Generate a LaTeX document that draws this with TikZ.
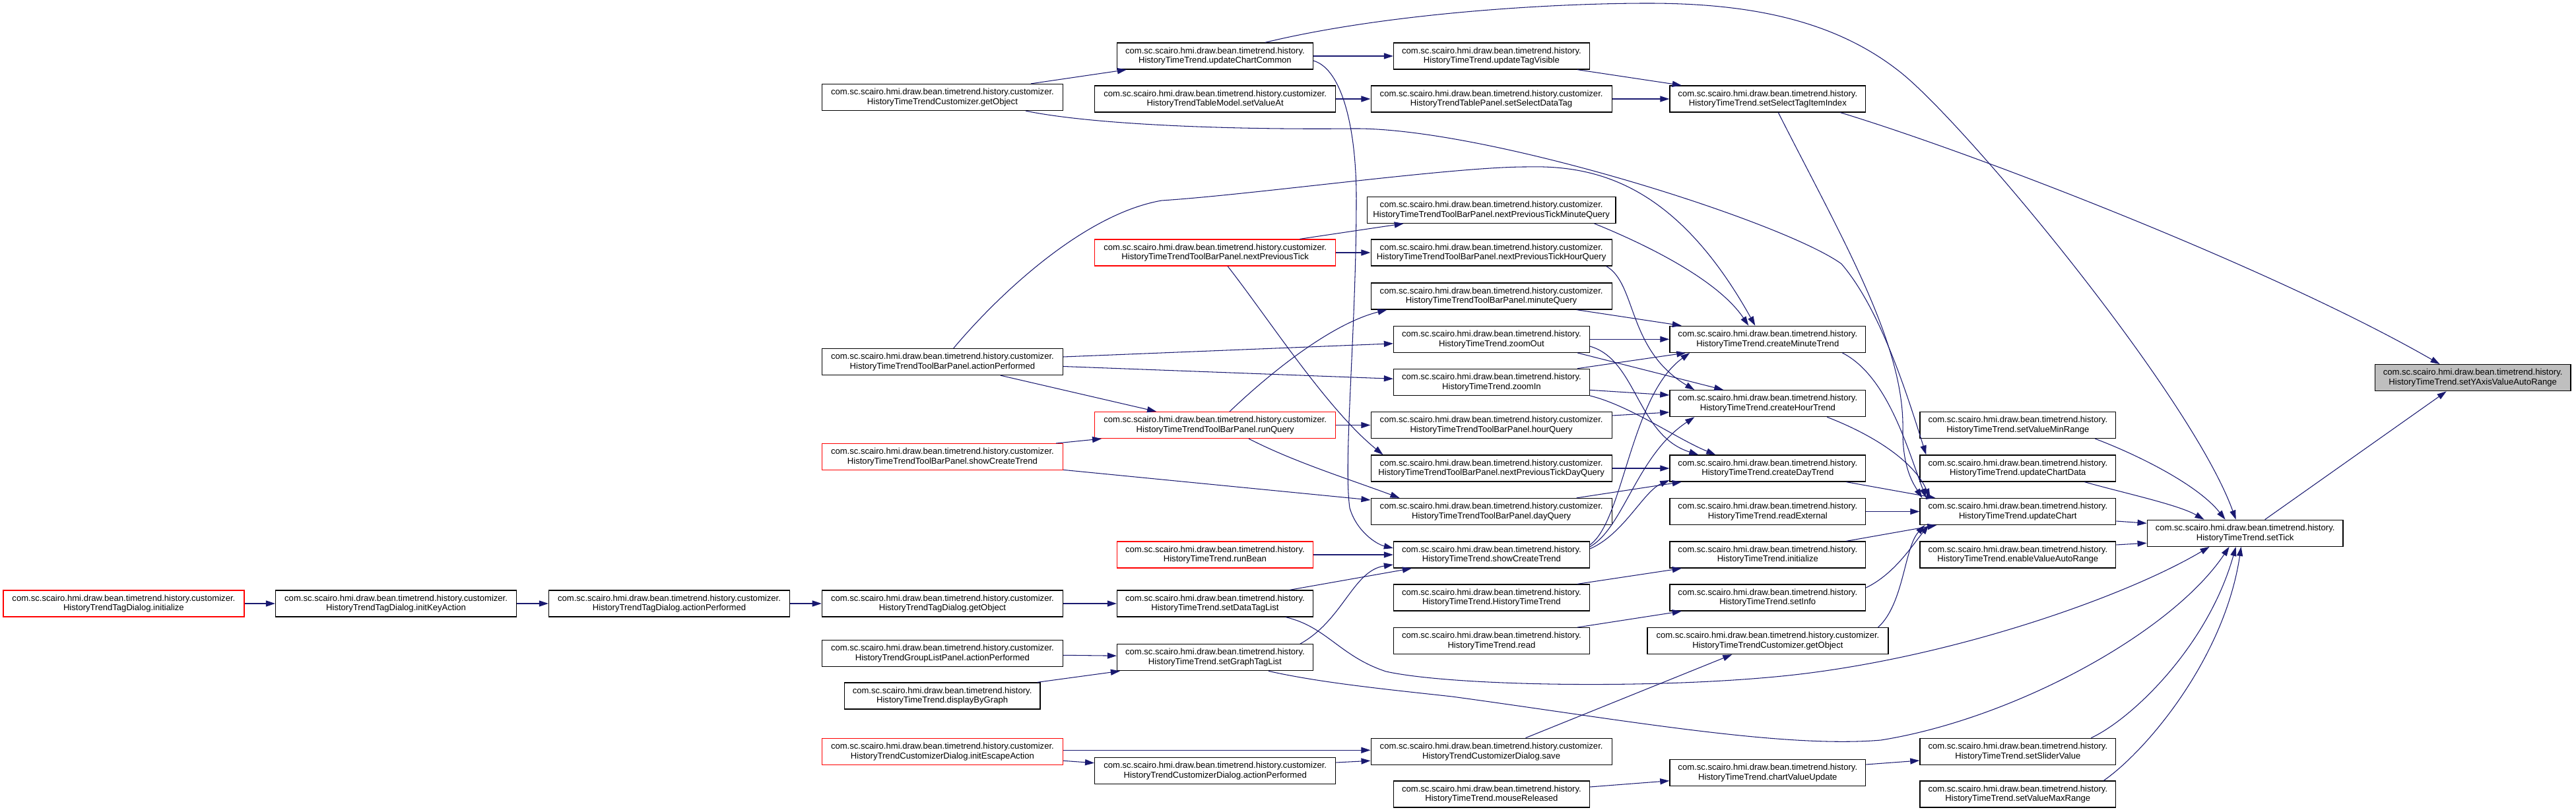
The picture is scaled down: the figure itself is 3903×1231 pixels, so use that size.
\documentclass[tikz,border=0pt]{standalone}
\usepackage{fontspec}
\setmainfont{Liberation Sans}
\usetikzlibrary{arrows.meta}
\definecolor{edgeblue}{RGB}{25,25,112}
\definecolor{rootgray}{RGB}{191,191,191}
\newcommand\HPre{com.sc.scairo.hmi.draw.bean.timetrend.history.}
\newcommand\CPre{com.sc.scairo.hmi.draw.bean.timetrend.history.customizer.}
\tikzset{
  fn/.style={draw=black, line width=0.35pt, fill=white, inner sep=0pt, minimum height=0.4cm,
    align=center, font=\fontsize{3.72}{4.18}\selectfont},
  hw/.style={fn, minimum width=2.966cm},
  cw/.style={fn, minimum width=3.648cm},
  redb/.style={draw=red},
  rootb/.style={fill=rootgray},
  edge/.style={draw=edgeblue, line width=0.3pt, -{Triangle[length=4pt,width=2.6pt]}}
}
\begin{document}
\begin{tikzpicture}[x=0.01cm, y=-0.01cm]
\useasboundingbox (0,0) rectangle (3903,1231);
% column 9..6
\node[cw,redb] (n_init) at (187.4,915) {\CPre\\HistoryTrendTagDialog.initialize};
\node[cw] (n_ika) at (600.1,915) {\CPre\\HistoryTrendTagDialog.initKeyAction};
\node[cw] (n_tdap) at (1014,915) {\CPre\\HistoryTrendTagDialog.actionPerformed};
\node[cw] (n_cgo) at (1427.9,147.5) {\CPre\\HistoryTimeTrendCustomizer.getObject};
\node[cw] (n_tbap) at (1427.9,548.5) {\CPre\\HistoryTimeTrendToolBarPanel.actionPerformed};
\node[cw,redb] (n_tbsct) at (1427.9,692.7) {\CPre\\HistoryTimeTrendToolBarPanel.showCreateTrend};
\node[cw] (n_tdgo) at (1427.9,915) {\CPre\\HistoryTrendTagDialog.getObject};
\node[cw] (n_glap) at (1427.9,990.3) {\CPre\\HistoryTrendGroupListPanel.actionPerformed};
\node[hw] (n_dbg) at (1427.6,1055) {\HPre\\HistoryTimeTrend.displayByGraph};
\node[cw,redb] (n_iea) at (1427.9,1139.3) {\CPre\\HistoryTrendCustomizerDialog.initEscapeAction};
% column 5
\node[hw] (n_ucc) at (1840.9,85) {\HPre\\HistoryTimeTrend.updateChartCommon};
\node[cw] (n_sva) at (1841.2,150) {\CPre\\HistoryTrendTableModel.setValueAt};
\node[cw,redb] (n_npt) at (1841.2,383) {\CPre\\HistoryTimeTrendToolBarPanel.nextPreviousTick};
\node[cw,redb] (n_rq) at (1841.2,644.5) {\CPre\\HistoryTimeTrendToolBarPanel.runQuery};
\node[hw,redb] (n_rb) at (1840.9,841) {\HPre\\HistoryTimeTrend.runBean};
\node[hw] (n_sdtl) at (1840.9,915) {\HPre\\HistoryTimeTrend.setDataTagList};
\node[hw] (n_sgtl) at (1840.9,996.7) {\HPre\\HistoryTimeTrend.setGraphTagList};
\node[cw] (n_cdap) at (1841.2,1168.7) {\CPre\\HistoryTrendCustomizerDialog.actionPerformed};
% column 4
\node[hw] (n_utv) at (2259.9,85) {\HPre\\HistoryTimeTrend.updateTagVisible};
\node[cw] (n_ssdt) at (2259.6,150) {\CPre\\HistoryTrendTablePanel.setSelectDataTag};
\node[fn, minimum width=3.763cm] (n_nptmq) at (2259.6,318.3) {\CPre\\HistoryTimeTrendToolBarPanel.nextPreviousTickMinuteQuery};
\node[cw] (n_npthq) at (2259.6,383) {\CPre\\HistoryTimeTrendToolBarPanel.nextPreviousTickHourQuery};
\node[cw] (n_mq) at (2259.6,449) {\CPre\\HistoryTimeTrendToolBarPanel.minuteQuery};
\node[hw] (n_zo) at (2259.9,514.3) {\HPre\\HistoryTimeTrend.zoomOut};
\node[hw] (n_zi) at (2259.9,579.3) {\HPre\\HistoryTimeTrend.zoomIn};
\node[cw] (n_hq) at (2259.6,644.5) {\CPre\\HistoryTimeTrendToolBarPanel.hourQuery};
\node[cw] (n_nptdq) at (2259.6,710) {\CPre\\HistoryTimeTrendToolBarPanel.nextPreviousTickDayQuery};
\node[cw] (n_dq) at (2259.6,775.5) {\CPre\\HistoryTimeTrendToolBarPanel.dayQuery};
\node[hw] (n_sct) at (2259.9,841) {\HPre\\HistoryTimeTrend.showCreateTrend};
\node[hw] (n_htt) at (2259.9,906) {\HPre\\HistoryTimeTrend.HistoryTimeTrend};
\node[hw] (n_read) at (2259.9,971.7) {\HPre\\HistoryTimeTrend.read};
\node[cw] (n_save) at (2259.6,1139.3) {\CPre\\HistoryTrendCustomizerDialog.save};
\node[hw] (n_mr) at (2259.9,1204) {\HPre\\HistoryTimeTrend.mouseReleased};
% column 3
\node[hw] (n_ssti) at (2678.3,150) {\HPre\\HistoryTimeTrend.setSelectTagItemIndex};
\node[hw] (n_cmt) at (2678.3,514.3) {\HPre\\HistoryTimeTrend.createMinuteTrend};
\node[hw] (n_cht) at (2678.3,611.7) {\HPre\\HistoryTimeTrend.createHourTrend};
\node[hw] (n_cdt) at (2678.3,710) {\HPre\\HistoryTimeTrend.createDayTrend};
\node[hw] (n_rext) at (2678.3,775.5) {\HPre\\HistoryTimeTrend.readExternal};
\node[hw] (n_hinit) at (2678.3,841) {\HPre\\HistoryTimeTrend.initialize};
\node[hw] (n_si) at (2678.3,906) {\HPre\\HistoryTimeTrend.setInfo};
\node[cw] (n_cgo2) at (2678.4,971.7) {\CPre\\HistoryTimeTrendCustomizer.getObject};
\node[hw] (n_cvu) at (2678.3,1171.7) {\HPre\\HistoryTimeTrend.chartValueUpdate};
% column 2
\node[hw] (n_svmin) at (3057.3,644.5) {\HPre\\HistoryTimeTrend.setValueMinRange};
\node[hw] (n_ucd) at (3057.3,710) {\HPre\\HistoryTimeTrend.updateChartData};
\node[hw] (n_uc) at (3057.3,775.5) {\HPre\\HistoryTimeTrend.updateChart};
\node[hw] (n_evar) at (3057.3,841) {\HPre\\HistoryTimeTrend.enableValueAutoRange};
\node[hw] (n_ssv) at (3057.3,1139.3) {\HPre\\HistoryTimeTrend.setSliderValue};
\node[hw] (n_svmax) at (3057.3,1204) {\HPre\\HistoryTimeTrend.setValueMaxRange};
% column 1, 0
\node[hw] (n_st) at (3401.6,808.3) {\HPre\\HistoryTimeTrend.setTick};
\node[hw,rootb] (n_root) at (3746.6,572.7) {\HPre\\HistoryTimeTrend.setYAxisValueAutoRange};

% ---------------- edges
\draw[edge] (n_init) -- (n_ika);
\draw[edge] (n_ika) -- (n_tdap);
\draw[edge] (n_tdap) -- (n_tdgo);
\draw[edge] (n_tdgo) -- (n_sdtl);
\draw[edge] ([shift={(0,3)}]n_glap.east) -- ([shift={(0,-2.5)}]n_sgtl.west);
\draw[edge] ([shift={(-5,0)}]n_dbg.north east) -- ([shift={(5,0)}]n_sgtl.south west);
\draw[edge] ([shift={(0,-2)}]n_iea.east) -- ([shift={(0,-2)}]n_save.west);
\draw[edge] ([shift={(0,14)}]n_iea.east) -- ([shift={(0,-12)}]n_cdap.west);
\draw[edge] ([shift={(0,-12.7)}]n_cdap.east) -- ([shift={(0,14)}]n_save.west);
\draw[edge] ([shift={(235,0)}]n_save.north west) -- ([shift={(129,0)}]n_cgo2.south west);
\draw[edge] ([shift={(0,-11)}]n_mr.east) -- ([shift={(0,12)}]n_cvu.west);
\draw[edge] ([shift={(0,-12.7)}]n_cvu.east) -- ([shift={(0,13.7)}]n_ssv.west);
\draw[edge] ([shift={(-19,0)}]n_htt.north east) -- ([shift={(18.5,0)}]n_hinit.south west);
\draw[edge] ([shift={(-19,0)}]n_read.north east) -- ([shift={(18.5,0)}]n_si.south west);
\draw[edge] ([shift={(0,-15)}]n_si.east) .. controls (2870,870) and (2895,830) .. ([shift={(14,0)}]n_uc.south west);
\draw[edge] ([shift={(-16,0)}]n_cgo2.north east) .. controls (2885,915) and (2885,830) .. ([shift={(8,0)}]n_uc.south west);
\draw[edge] ([shift={(-30,0)}]n_hinit.north east) -- ([shift={(26,0)}]n_uc.south west);
\draw[edge] (n_rext) -- (n_uc);
\draw[edge] ([shift={(-30,0)}]n_cdt.south east) -- ([shift={(24,0)}]n_uc.north west);
\draw[edge] ([shift={(-59,0)}]n_cht.south east) .. controls (2840,660) and (2900,700) .. ([shift={(16,0)}]n_uc.north west);
\draw[edge] ([shift={(-36,0)}]n_cmt.south east) .. controls (2860,570) and (2890,680) .. ([shift={(10,0)}]n_uc.north west);
\draw[edge] ([shift={(165,0)}]n_ssti.south west) .. controls (2790,360) and (2885,520) .. (2883,650) .. controls (2882,710) and (2900,735) .. ([shift={(4,0)}]n_uc.north west);
\draw[edge] ([shift={(-39,0)}]n_ssti.south east) .. controls (3000,235) and (3450,410) .. ([shift={(99,0)}]n_root.north west);
\draw[edge] ([shift={(225,0)}]n_ucc.north west) .. controls (2100,20) and (2350,5) .. (2497,5) .. controls (2650,5) and (2780,30) .. (2880,110) .. controls (2980,190) and (3320,600) .. ([shift={(135,0)}]n_st.north west);
\draw[edge] ([shift={(-49,0)}]n_cgo.north east) -- ([shift={(15,0)}]n_ucc.south west);
\draw[edge] ([shift={(-57,0)}]n_cgo.south east) .. controls (1650,188) and (1850,197) .. (2050,195) .. controls (2250,193) and (2700,335) .. (2790,400) .. controls (2850,470) and (2890,600) .. ([shift={(10,0)}]n_ucd.north west);
\draw[edge] (n_ucc) -- (n_utv);
\draw[edge] ([shift={(-19,0)}]n_utv.south east) -- ([shift={(18.5,0)}]n_ssti.north west);
\draw[edge] (n_sva) -- (n_ssdt);
\draw[edge] (n_ssdt) -- (n_ssti);
\draw[edge] ([shift={(0,7)}]n_ucc.east) .. controls (2035,105) and (2055,200) .. (2055,300) .. controls (2055,500) and (2035,700) .. (2045,770) .. controls (2055,805) and (2085,825) .. ([shift={(0,-10)}]n_sct.west);
\draw[edge] (n_rb) -- (n_sct);
\draw[edge] ([shift={(-36,0)}]n_sdtl.north east) -- ([shift={(28,0)}]n_sct.south west);
\draw[edge] ([shift={(-20,0)}]n_sgtl.north east) .. controls (2035,940) and (2050,865) .. ([shift={(0,15)}]n_sct.west);
\draw[edge] ([shift={(-42,0)}]n_sdtl.south east) .. controls (2010,950) and (2030,995) .. (2100,1018) .. controls (2200,1040) and (2500,1045) .. (2700,1025) .. controls (2950,1000) and (3220,905) .. ([shift={(95,0)}]n_st.south west);
\draw[edge] ([shift={(-68,0)}]n_sgtl.south east) .. controls (2000,1035) and (2100,1045) .. (2200,1056) .. controls (2450,1090) and (2700,1135) .. (2850,1122) .. controls (3050,1090) and (3290,960) .. ([shift={(125,0)}]n_st.south west);
\draw[edge] ([shift={(-38,0)}]n_ssv.north east) .. controls (3230,1090) and (3345,980) .. ([shift={(135,0)}]n_st.south west);
\draw[edge] ([shift={(-19,0)}]n_svmax.north east) .. controls (3250,1140) and (3370,1000) .. ([shift={(143,0)}]n_st.south west);
\draw[edge] ([shift={(0,-15)}]n_evar.east) -- ([shift={(0,15)}]n_st.west);
\draw[edge] ([shift={(0,14.5)}]n_uc.east) -- ([shift={(0,-15)}]n_st.west);
\draw[edge] ([shift={(-48,0)}]n_ucd.south east) .. controls (3220,748) and (3300,765) .. ([shift={(87,0)}]n_st.north west);
\draw[edge] ([shift={(-32,0)}]n_svmin.south east) .. controls (3240,690) and (3330,735) .. ([shift={(119,0)}]n_st.north west);
\draw[edge] ([shift={(179,0)}]n_st.north west) -- ([shift={(109,0)}]n_root.south west);
\draw[edge] ([shift={(200,0)}]n_tbap.north west) .. controls (1510,450) and (1640,325) .. (1760,304) .. controls (1900,295) and (2200,253) .. (2312,253) .. controls (2420,250) and (2540,280) .. ([shift={(130,0)}]n_cmt.north west);
\draw[edge] ([shift={(-33,0)}]n_nptmq.south east) .. controls (2480,365) and (2600,420) .. ([shift={(120,0)}]n_cmt.north west);
\draw[edge] ([shift={(-54,0)}]n_mq.south east) -- ([shift={(18.5,0)}]n_cmt.north west);
\draw[edge] (n_zo) -- (n_cmt);
\draw[edge] ([shift={(-19,0)}]n_zi.north east) -- ([shift={(25,0)}]n_cmt.south west);
\draw[edge] ([shift={(0,-15)}]n_sct.east) .. controls (2460,790) and (2470,600) .. ([shift={(31,0)}]n_cmt.south west);
\draw[edge] ([shift={(0,-12)}]n_sct.east) .. controls (2460,800) and (2480,690) .. ([shift={(38,0)}]n_cht.south west);
\draw[edge] ([shift={(0,-9)}]n_sct.east) .. controls (2460,810) and (2490,745) .. ([shift={(0,18)}]n_cdt.west);
\draw[edge] ([shift={(-19,0)}]n_zo.south east) -- ([shift={(82,0)}]n_cht.north west);
\draw[edge] ([shift={(0,12)}]n_zi.east) -- ([shift={(0,-12.7)}]n_cht.west);
\draw[edge] ([shift={(0,-14.5)}]n_hq.east) -- ([shift={(0,13.3)}]n_cht.west);
\draw[edge] ([shift={(-9,0)}]n_npthq.south east) .. controls (2480,430) and (2465,530) .. ([shift={(38,0)}]n_cht.north west);
\draw[edge] ([shift={(0,10.7)}]n_zo.east) .. controls (2480,545) and (2480,660) .. ([shift={(44,0)}]n_cdt.north west);
\draw[edge] (n_zi.south east) .. controls (2470,615) and (2540,665) .. ([shift={(70,0)}]n_cdt.north west);
\draw[edge] (n_nptdq) -- (n_cdt);
\draw[edge] ([shift={(-54,0)}]n_dq.north east) -- ([shift={(18.5,0)}]n_cdt.south west);
\draw[edge] ([shift={(0,-7.5)}]n_tbap.east) -- ([shift={(0,6.5)}]n_zo.west);
\draw[edge] ([shift={(0,7)}]n_tbap.east) -- ([shift={(0,-5)}]n_zi.west);
\draw[edge] ([shift={(271,0)}]n_tbap.south west) -- ([shift={(94,0)}]n_rq.north west);
\draw[edge] ([shift={(-11,0)}]n_tbsct.north east) -- ([shift={(11,0)}]n_rq.south west);
\draw[edge] ([shift={(0,-1)}]n_tbsct.south east) -- ([shift={(0,-17.5)}]n_dq.west);
\draw[edge] ([shift={(205,0)}]n_rq.north west) .. controls (1930,560) and (2020,490) .. ([shift={(25,0)}]n_mq.south west);
\draw[edge] (n_rq) -- (n_hq);
\draw[edge] ([shift={(234,0)}]n_rq.south west) .. controls (1960,700) and (2040,725) .. ([shift={(44,0)}]n_dq.north west);
\draw[edge] ([shift={(-55,0)}]n_npt.north east) -- ([shift={(56,0)}]n_nptmq.south west);
\draw[edge] (n_npt) -- (n_npthq);
\draw[edge] ([shift={(202,0)}]n_npt.south west) .. controls (1920,480) and (2010,620) .. ([shift={(19,0)}]n_nptdq.north west);
\end{tikzpicture}
\end{document}
